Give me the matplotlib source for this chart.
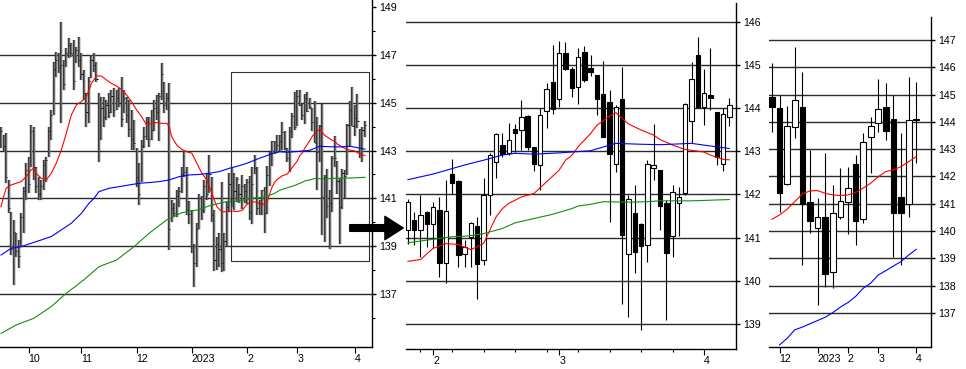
import numpy as np
import matplotlib
matplotlib.use("Agg")
import matplotlib.pyplot as plt
from matplotlib.patches import Rectangle

plt.rcParams['font.family'] = ['Liberation Sans', 'DejaVu Sans']
plt.rcParams['font.size'] = 7.7

# daily bars, index 0 = 2022-09-16 ... 145 = 2023-04-07
d_open = [143.30, 143.60, 143.20, 141.70, 140.40, 139.00, 139.40, 138.90, 139.00, 140.10,
          141.30, 142.10, 142.50, 143.80, 142.20, 141.50, 141.10, 141.50, 142.30, 142.80,
          143.80, 144.60, 146.40, 146.80, 146.50, 146.20, 146.60, 147.10, 147.30, 147.20,
          146.80, 147.20, 146.80, 146.20, 145.30, 144.50, 146.10, 146.80, 146.50, 145.10,
          143.50, 144.80, 144.40, 144.90, 144.60, 145.30, 144.70, 145.20, 145.00, 144.60,
          145.10, 144.50, 143.90, 143.50, 142.70, 141.90, 141.80, 143.20, 143.60, 144.20,
          143.50, 143.80, 144.80, 144.60, 145.30, 145.80, 144.90, 145.20, 140.10, 140.60,
          140.40, 141.10, 141.30, 142.20, 142.10, 140.50, 140.10, 138.90, 138.30, 139.80,
          141.00, 140.50, 141.50, 141.30, 141.80, 140.30, 138.50, 139.10, 138.90, 138.30,
          139.20, 140.60, 141.60, 141.00,
          141.17, 141.40, 141.17, 141.59, 141.31, 141.63, 140.40, 142.47, 142.31, 140.62,
          141.02, 141.26, 140.48, 141.98, 142.75, 143.14, 142.95, 143.51, 143.50, 143.81,
          143.10, 142.68, 143.93, 144.60, 144.20, 145.28, 144.91, 144.49, 145.30, 144.93,
          144.76, 144.33, 144.14, 142.70, 144.20, 140.63, 141.56, 141.31, 140.82, 142.62,
          142.56, 141.80, 141.03, 141.81, 142.02, 143.70, 145.22, 144.03, 144.30, 143.91,
          142.71, 143.78]
d_high = [144.00, 143.65, 143.72, 141.77, 140.44, 140.10, 139.54, 139.26, 140.37, 141.49,
          142.47, 142.75, 144.07, 144.00, 142.33, 141.91, 141.77, 142.61, 142.75, 144.00,
          144.70, 146.72, 147.14, 147.07, 148.39, 146.79, 147.28, 147.70, 147.49, 147.63,
          147.35, 147.77, 147.07, 146.37, 145.40, 146.09, 147.00, 147.07, 146.72, 145.40,
          145.26, 145.26, 145.12, 145.40, 145.54, 145.60, 145.54, 145.60, 146.09, 145.54,
          145.26, 145.12, 144.70, 144.28, 143.10, 142.47, 143.44, 144.00, 144.42, 144.42,
          144.70, 145.12, 145.33, 145.40, 146.65, 145.88, 145.40, 145.81, 140.93, 140.79,
          141.35, 141.49, 142.33, 142.97, 142.30, 140.90, 140.50, 139.10, 139.96, 141.20,
          141.10, 141.77, 142.05, 142.82, 141.90, 140.50, 139.40, 139.54, 141.69, 139.54,
          140.90, 142.05, 142.30, 142.05,
          141.90, 141.60, 141.98, 141.62, 141.83, 141.94, 142.33, 142.81, 142.33, 140.94,
          141.36, 141.48, 142.37, 142.95, 143.41, 143.41, 143.66, 143.64, 144.18, 143.83,
          143.10, 143.99, 144.57, 145.45, 145.55, 145.53, 144.95, 145.38, 145.44, 145.22,
          144.76, 145.08, 144.41, 144.06, 144.95, 141.98, 142.21, 141.34, 142.79, 143.63,
          142.56, 141.87, 142.21, 142.17, 144.11, 145.07, 145.65, 144.91, 145.38, 143.91,
          143.99, 144.24]
d_low = [143.10, 143.00, 141.63, 140.37, 138.63, 137.38, 138.56, 138.07, 138.97, 139.54,
         140.93, 141.21, 142.33, 141.77, 141.21, 140.93, 140.93, 141.35, 141.70, 142.75,
         143.44, 144.49, 146.09, 146.23, 144.14, 145.54, 146.51, 146.86, 146.93, 145.54,
         146.65, 146.51, 145.95, 145.12, 144.00, 144.14, 146.02, 146.30, 145.88, 142.54,
         143.44, 144.00, 144.28, 144.35, 144.56, 144.42, 144.70, 144.84, 144.00, 144.56,
         144.14, 143.58, 143.02, 143.02, 141.49, 140.72, 141.69, 143.09, 143.44, 143.16,
         143.44, 143.80, 144.28, 143.40, 145.12, 144.56, 144.70, 138.84, 140.03, 140.23,
         140.23, 140.65, 141.21, 141.90, 140.30, 139.92, 138.70, 137.30, 138.14, 139.70,
         140.10, 140.40, 140.93, 141.21, 140.00, 137.96, 138.00, 138.14, 137.90, 137.95,
         139.00, 140.43, 140.65, 140.50,
         140.86, 140.82, 140.55, 140.79, 140.75, 140.09, 139.94, 142.00, 140.32, 140.32,
         140.32, 139.57, 140.36, 141.52, 142.37, 142.87, 142.91, 142.98, 143.02, 143.02,
         142.54, 142.11, 143.54, 143.85, 144.03, 144.88, 144.26, 144.10, 144.60, 144.74,
         143.83, 143.32, 141.36, 142.52, 139.47, 139.17, 140.17, 138.86, 140.44, 142.33,
         141.17, 139.09, 140.55, 141.03, 141.98, 143.19, 144.01, 143.60, 143.95, 142.68,
         142.54, 143.58]
d_close = [143.80, 143.20, 141.90, 140.60, 138.90, 139.60, 138.80, 138.60, 140.20, 141.30,
           142.20, 141.60, 143.80, 142.30, 141.50, 141.20, 141.50, 142.40, 142.60, 143.80,
           144.50, 146.40, 146.80, 146.50, 146.60, 145.80, 147.10, 147.40, 147.10, 145.90,
           147.20, 146.80, 146.20, 145.40, 144.60, 145.90, 146.80, 146.60, 146.00, 143.00,
           144.80, 144.40, 144.90, 144.60, 145.30, 144.70, 145.20, 145.00, 144.30, 145.20,
           144.50, 143.90, 143.50, 143.30, 141.90, 141.20, 143.20, 143.60, 144.20, 143.50,
           143.85, 144.80, 144.60, 145.30, 146.20, 144.90, 145.20, 139.70, 140.60, 140.40,
           141.10, 141.30, 142.00, 142.10, 140.50, 140.35, 139.00, 138.30, 139.70, 141.00,
           140.53, 141.50, 141.20, 142.00, 140.30, 138.43, 139.10, 138.90, 138.30, 139.20,
           140.65, 141.60, 141.00, 141.30,
           141.83, 141.17, 141.52, 141.31, 141.70, 140.42, 141.61, 142.27, 140.59, 140.79,
           141.33, 140.38, 141.98, 142.91, 143.39, 142.93, 143.25, 143.41, 143.78, 143.10,
           142.70, 143.83, 144.45, 143.98, 145.28, 144.91, 144.47, 145.18, 144.64, 144.84,
           144.20, 143.33, 142.93, 144.03, 141.07, 141.90, 140.67, 140.80, 142.70, 142.68,
           141.73, 140.65, 142.06, 141.93, 144.09, 144.68, 144.03, 144.35, 144.24, 142.87,
           143.87, 144.06]

# moving averages (bar index, value)
red_i = [0, 1, 2, 4, 6, 8, 10, 12, 13, 14, 16, 18, 20, 22, 24, 26, 28, 30, 32, 34, 36, 38,
         40, 42, 44, 46, 48, 50, 52, 54, 56, 58, 60, 62, 64, 66, 67, 68, 70, 72, 74, 76, 78,
         80, 82, 84, 86, 88, 90, 92, 94, 96, 98, 100, 102, 104, 106, 107, 108, 109, 110, 112,
         114, 116, 118, 119, 120, 121, 123, 124, 126, 127, 128, 129, 131, 133, 134, 136, 138,
         141, 142, 144, 145]
red_v = [140.65, 141.07, 141.42, 141.56, 141.63, 141.70, 141.91, 142.19, 142.26, 142.05,
         141.84, 141.77, 142.05, 142.47, 143.02, 143.72, 144.49, 144.91, 145.05, 145.26,
         145.81, 146.12, 146.12, 145.95, 145.81, 145.70, 145.56, 145.33, 145.05, 144.70,
         144.42, 144.07, 144.14, 144.17, 144.14, 144.14, 144.00, 143.58, 143.23, 143.05,
         142.95, 142.89, 142.47, 142.05, 141.77, 141.21, 140.65, 140.44, 140.44, 140.47,
         140.45, 140.49, 140.75, 140.86, 140.84, 140.72, 140.86, 141.17, 141.48, 141.67,
         141.79, 141.94, 142.02, 142.29, 142.56, 142.79, 142.90, 143.10, 143.41, 143.60,
         143.81, 143.89, 143.76, 143.63, 143.49, 143.37, 143.27, 143.14, 143.04, 142.98,
         142.91, 142.81, 142.80]
blue_i = [0, 4, 8, 12, 16, 20, 24, 28, 32, 35, 37, 39, 43, 47, 51, 55, 59, 63, 67, 71, 75,
          79, 83, 87, 91, 94, 98, 103, 106, 109, 111, 114, 118, 123, 126, 127, 131, 134,
          139, 140, 143, 145]
blue_v = [138.63, 138.91, 138.98, 139.12, 139.26, 139.40, 139.68, 139.96, 140.37, 140.79,
          141.00, 141.28, 141.42, 141.49, 141.56, 141.63, 141.66, 141.70, 141.77, 141.91,
          141.98, 142.00, 142.05, 142.12, 142.26, 142.34, 142.47, 142.68, 142.79, 142.91,
          142.95, 142.93, 142.96, 143.01, 143.14, 143.18, 143.16, 143.15, 143.18, 143.16,
          143.10, 143.06]
green_i = [0, 6, 13, 20, 26, 33, 39, 46, 53, 59, 66, 72, 78, 84, 90, 94, 98, 101, 103, 106,
           109, 111, 114, 117, 120, 121, 123, 125, 129, 132, 134, 139, 145]
green_v = [135.35, 135.70, 135.98, 136.47, 137.03, 137.59, 138.14, 138.42, 138.98, 139.54,
           140.10, 140.40, 140.51, 140.72, 140.86, 140.88, 140.96, 141.02, 141.03, 141.09,
           141.21, 141.34, 141.44, 141.54, 141.67, 141.73, 141.77, 141.83, 141.82, 141.83,
           141.85, 141.85, 141.88]

month_idx = [11, 32, 54, 76, 98, 118, 141]
month_lbl = ['10', '11', '12', '2023', '2', '3', '4']
week_idx = [96, 101, 106, 111, 116, 121, 126, 131, 136, 141]

# weekly candles, index 0 = week of 2022-11-21 ... 19 = week of 2023-04-03
w_open = [144.90, 144.50, 141.73, 143.80, 144.53, 141.08, 140.10, 140.50, 138.51, 140.53,
          141.08, 142.46, 140.45, 143.46, 143.95, 144.53, 144.11, 141.24, 140.99, 144.07]
w_high = [146.15, 144.99, 144.58, 146.73, 145.84, 142.97, 141.20, 142.85, 141.69, 142.30,
          142.36, 142.79, 143.60, 144.17, 145.56, 145.41, 144.99, 143.58, 145.66, 145.47]
w_low = [143.61, 140.71, 141.69, 143.40, 138.76, 139.92, 137.29, 137.96, 137.90, 140.43,
         139.89, 139.49, 140.30, 142.12, 143.64, 143.34, 139.06, 138.76, 140.53, 142.48]
w_close = [144.56, 141.41, 143.83, 144.80, 140.98, 140.35, 140.53, 138.43, 140.65, 141.10,
           141.57, 140.35, 143.25, 143.83, 144.46, 143.68, 140.65, 140.65, 144.07, 144.09]
w_red = [140.43, 140.59, 140.80, 141.08, 141.36, 141.47, 141.48, 141.38, 141.32, 141.30,
         141.32, 141.41, 141.57, 141.75, 141.99, 142.18, 142.24, 142.36, 142.54, 142.73]
w_blue_i = list(range(1, 20))
w_blue = [135.83, 136.07, 136.38, 136.48, 136.60, 136.72, 136.84, 137.01, 137.21, 137.38,
          137.60, 137.90, 138.09, 138.39, 138.55, 138.72, 138.88, 139.12, 139.33]
w_month_idx = [1, 6, 10, 14, 19]
w_month_lbl = ['12', '2023', '2', '3', '4']

W, H = 966, 369
fig = plt.figure(figsize=(W / 100, H / 100), dpi=100)


def box(x0, x1, ytop, ybot):
    return [x0 / W, (H - ybot) / H, (x1 - x0) / W, (ybot - ytop) / H]


def frame(ax, grid):
    for s in ['left', 'top']:
        ax.spines[s].set_visible(False)
    for s in ['right', 'bottom']:
        ax.spines[s].set_linewidth(1.0)
    ax.yaxis.tick_right()
    for g in grid:
        ax.axhline(g, color='#2a2a2a', lw=1.0, zorder=1)
    ax.tick_params(axis='y', which='major', length=3, width=1.0, pad=2, labelsize=7.7)
    ax.tick_params(axis='y', which='minor', length=2.5, width=0.8)
    ax.tick_params(axis='x', which='major', length=4.5, width=0.8, pad=0.5, labelsize=7.7)
    ax.tick_params(axis='x', which='minor', length=2.5, width=0.8)


def candles(ax, x, o, h, l, c, width, lw):
    o, h, l, c = map(np.asarray, (o, h, l, c))
    ax.vlines(x, l, h, color='black', lw=lw, zorder=3)
    up = c >= o
    ax.bar(x, np.maximum(np.abs(c - o), 0.03), width, bottom=np.minimum(o, c),
           color=np.where(up, 'white', 'black'), edgecolor='black', lw=lw, zorder=4)


def month_axis(ax, idx, lbl):
    ax.set_xticks(idx)
    ax.set_xticklabels(lbl)
    for t in ax.get_xticklabels():
        t.set_ha('left')


idx = np.arange(len(d_close))

# panel 1: daily bars
ax1 = fig.add_axes(box(0, 372, 0, 347))
frame(ax1, [137, 139, 141, 143, 145, 147])
ax1.vlines(idx, d_low, d_high, color='#3a3a3a', lw=1.75, zorder=3)
ax1.vlines(idx, d_low, d_high, color='#8a8a8a', lw=0.5, zorder=3)
ax1.hlines(d_close, idx, idx + 0.45, color='black', lw=0.7, zorder=3)
ax1.plot(red_i, red_v, color='#ff0000', lw=0.8, zorder=5)
ax1.plot(blue_i, blue_v, color='#0000ff', lw=0.8, zorder=5)
ax1.plot(green_i, green_v, color='#109010', lw=0.8, zorder=5)
ax1.add_patch(Rectangle((91.6, 138.38), 55.0, 7.91, fill=False, lw=0.8,
                        edgecolor='#303030', zorder=6))
ax1.set_yticks([137, 139, 141, 143, 145, 147, 149])
ax1.set_yticks(np.arange(136, 149, 2), minor=True)
month_axis(ax1, month_idx, month_lbl)
ax1.set_xlim(-0.42, 147.79)
ax1.set_ylim(134.78, 149.30)

# panel 2: last part as candles
ax2 = fig.add_axes(box(406, 736, 3, 349))
frame(ax2, range(139, 147))
s = slice(94, None)
ax2.plot(red_i[50:], red_v[50:], color='#ff0000', lw=0.8, zorder=5)
ax2.plot(blue_i[25:], blue_v[25:], color='#0000ff', lw=0.8, zorder=5)
ax2.plot(green_i[15:], green_v[15:], color='#109010', lw=0.8, zorder=5)
candles(ax2, idx[s], d_open[s], d_high[s], d_low[s], d_close[s], 0.7, 0.8)
ax2.set_yticks(range(139, 147))
month_axis(ax2, month_idx[4:], month_lbl[4:])
ax2.set_xticks(week_idx, minor=True)
ax2.set_xlim(93.7, 146.06)
ax2.set_ylim(138.42, 146.43)

# panel 3: weekly candles
ax3 = fig.add_axes(box(769, 931, 17, 347))
frame(ax3, range(137, 148))
wk = np.arange(len(w_close))
candles(ax3, wk, w_open, w_high, w_low, w_close, 0.75, 0.8)
ax3.plot(wk, w_red, color='#ff0000', lw=0.8, zorder=5)
ax3.plot(w_blue_i, w_blue, color='#0000ff', lw=0.8, zorder=5)
ax3.set_yticks(range(137, 148))
month_axis(ax3, w_month_idx, w_month_lbl)
ax3.set_xlim(-0.4, 20.94)
ax3.set_ylim(135.75, 147.84)

fig.add_artist(matplotlib.patches.FancyArrowPatch(
    (347 / W, (H - 228) / H), (406 / W, (H - 228) / H), transform=fig.transFigure,
    arrowstyle='simple,head_length=1.1,head_width=1.4,tail_width=0.4',
    mutation_scale=12, color='black', clip_on=False))

fig.savefig('out.png', dpi=100)
